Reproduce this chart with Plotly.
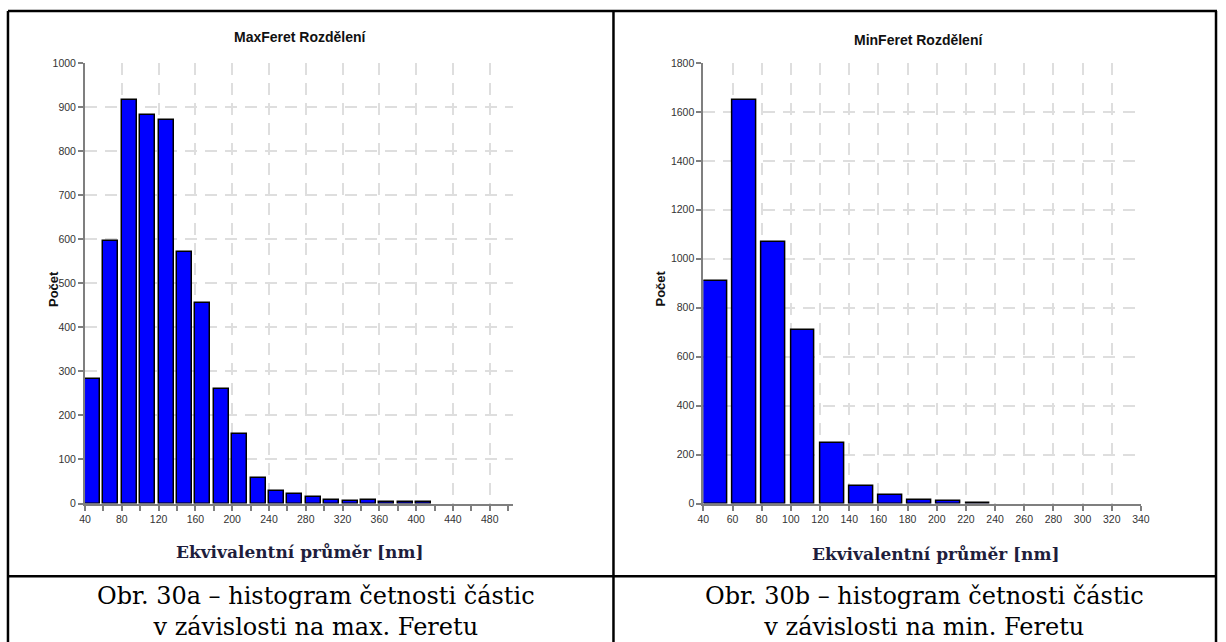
import plotly.graph_objects as go

# ---------------- data ----------------
max_bin_start = [40, 60, 80, 100, 120, 140, 160, 180, 200, 220, 240, 260, 280, 300, 320, 340, 360, 380, 400]
max_counts = [282, 597, 916, 882, 871, 572, 455, 260, 157, 58, 28, 21, 15, 9, 6, 9, 3, 3, 3]

min_bin_start = [40, 60, 80, 100, 120, 140, 160, 180, 200, 220]
min_counts = [909, 1650, 1068, 709, 247, 70, 37, 15, 10, 4]

max_xticks = [40, 80, 120, 160, 200, 240, 280, 320, 360, 400, 440, 480]
min_xticks = [40, 60, 80, 100, 120, 140, 160, 180, 200, 220, 240, 260, 280, 300, 320, 340]

title_left = "MaxFeret Rozdělení"
title_right = "MinFeret Rozdělení"
y_title = "Počet"
x_title = "Ekvivalentní průměr [nm]"
caption_left = "Obr. 30a – histogram četnosti částic<br>v závislosti na max. Feretu"
caption_right = "Obr. 30b – histogram četnosti částic<br>v závislosti na min. Feretu"

# ---------------- figure ----------------
W, H = 1226, 642
def px(x):
    return x / W
def py(y):
    return 1 - y / H

BIN = 20
BAR_W = 16.4

fig = go.Figure()
fig.add_trace(go.Bar(x=max_bin_start, y=max_counts, width=BAR_W, offset=0,
                     marker=dict(color="#0000FF", line=dict(color="#000000", width=1.5)),
                     xaxis="x", yaxis="y", showlegend=False))
fig.add_trace(go.Bar(x=min_bin_start, y=min_counts, width=BAR_W, offset=0,
                     marker=dict(color="#0000FF", line=dict(color="#000000", width=1.5)),
                     xaxis="x2", yaxis="y2", showlegend=False))

tickfont = dict(family="Liberation Sans, Arial, sans-serif", size=10.5, color="#333333")
grid = dict(showgrid=True, gridcolor="#dedede", gridwidth=1.5, griddash="12px,8px")
axisline = dict(showline=True, linecolor="#7f7f7f", linewidth=2, ticks="outside",
                ticklen=5, tickcolor="#7f7f7f", tickwidth=1.5, zeroline=False,
                tickfont=tickfont)

y_top, y_bot = 58, 507

fig.update_layout(
    width=W, height=H, margin=dict(l=0, r=0, t=0, b=0),
    paper_bgcolor="white", plot_bgcolor="white",
    bargap=0,
    xaxis=dict(domain=[px(80), px(513)], range=[40, 505], anchor="y",
               tickmode="array", tickvals=max_xticks,
               minor=dict(dtick=BIN, tick0=40, ticks="outside", ticklen=5,
                          tickcolor="#7f7f7f", showgrid=False),
               **grid, **axisline),
    yaxis=dict(domain=[py(y_bot), py(y_top)], range=[0, 1000], anchor="x",
               dtick=100, **grid, **axisline),
    xaxis2=dict(domain=[px(706), px(1149)], range=[40, 340], anchor="y2",
                tickmode="array", tickvals=min_xticks,
                **grid, **axisline),
    yaxis2=dict(domain=[py(y_bot), py(y_top)], range=[0, 1800], anchor="x2",
                dtick=200, **grid, **axisline),
)

ann = []
title_font = dict(family="Liberation Sans, Arial, sans-serif", size=14, color="#111111")
ann.append(dict(text="<b>" + title_left + "</b>", x=px(298), y=py(32), xref="paper", yref="paper",
                showarrow=False, font=title_font, xanchor="center", yanchor="middle"))
ann.append(dict(text="<b>" + title_right + "</b>", x=px(924), y=py(35), xref="paper", yref="paper",
                showarrow=False, font=title_font, xanchor="center", yanchor="middle"))
ytf = dict(family="Liberation Sans, Arial, sans-serif", size=13, color="#111111")
ann.append(dict(text="<b>" + y_title + "</b>", x=px(48), y=py(288), xref="paper", yref="paper",
                showarrow=False, font=ytf, textangle=-90, xanchor="center", yanchor="middle"))
ann.append(dict(text="<b>" + y_title + "</b>", x=px(663), y=py(288), xref="paper", yref="paper",
                showarrow=False, font=ytf, textangle=-90, xanchor="center", yanchor="middle"))
xtf = dict(family="DejaVu Serif, serif", size=17, color="#1e1e3c")
ann.append(dict(text="<b>" + x_title + "</b>", x=px(298), y=py(556), xref="paper", yref="paper",
                showarrow=False, font=xtf, xanchor="center", yanchor="middle"))
ann.append(dict(text="<b>" + x_title + "</b>", x=px(942), y=py(558), xref="paper", yref="paper",
                showarrow=False, font=xtf, xanchor="center", yanchor="middle"))
capf = dict(family="DejaVu Serif, serif", size=24, color="#000000")
ann.append(dict(text=caption_left, x=px(314), y=py(585), xref="paper", yref="paper",
                showarrow=False, font=capf, xanchor="center", yanchor="top", align="center"))
ann.append(dict(text=caption_right, x=px(930), y=py(585), xref="paper", yref="paper",
                showarrow=False, font=capf, xanchor="center", yanchor="top", align="center"))
fig.update_layout(annotations=ann)

# table borders
border = dict(color="#000000", width=2.5)
shapes = [
    dict(type="line", xref="paper", yref="paper", x0=px(2), x1=px(1226), y0=py(5), y1=py(5), line=border),
    dict(type="line", xref="paper", yref="paper", x0=px(2), x1=px(1226), y0=py(581), y1=py(581), line=border),
    dict(type="line", xref="paper", yref="paper", x0=px(2), x1=px(2), y0=py(5), y1=py(660), line=border),
    dict(type="line", xref="paper", yref="paper", x0=px(615), x1=px(615), y0=py(5), y1=py(660), line=border),
    dict(type="line", xref="paper", yref="paper", x0=px(1225), x1=px(1225), y0=py(5), y1=py(660), line=border),
]
fig.update_layout(shapes=shapes)

fig.write_html("out.html")
